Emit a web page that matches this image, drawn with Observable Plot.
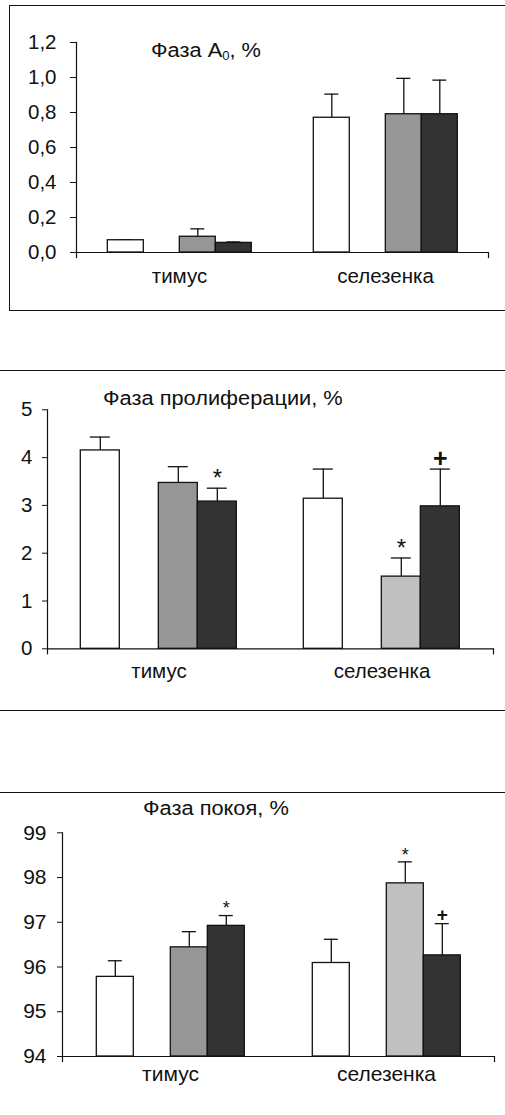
<!DOCTYPE html>
<html>
<head>
<meta charset="utf-8">
<script src="https://cdn.jsdelivr.net/npm/d3@7"></script>
<script src="https://cdn.jsdelivr.net/npm/@observablehq/plot@0.6"></script>
<style>
  html, body { margin: 0; padding: 0; background: #fff; }
  body { width: 505px; height: 1115px; position: relative; overflow: hidden;
         font-family: "Liberation Sans", Arial, Helvetica, sans-serif; color: #111; }
  .abs { position: absolute; }
  .title { position: absolute; font-size: 20px; line-height: 20px; white-space: nowrap;
           transform: scaleX(1.09); transform-origin: left center; }
  .title sub { font-size: 0.6em; vertical-align: -0.25em; line-height: 0; }
  .hline { position: absolute; left: 0; width: 505px; height: 0; border-top: 1px solid #111; }
</style>
</head>
<body>
<div class="abs" style="left:9px; top:5px; width:520px; height:304px; border:1px solid #111;"></div>
<div class="hline" style="top:370px;"></div>
<div class="hline" style="top:710px;"></div>
<div class="hline" style="top:792px;"></div>

<div id="p1" class="abs" style="left:0; top:0;"></div>
<div id="p2" class="abs" style="left:0; top:380px;"></div>
<div id="p3" class="abs" style="left:0; top:800px;"></div>

<div class="title" style="left:151px; top:40px;">Фаза A<sub>0</sub>, %</div>
<div class="title" style="left:103px; top:388px;">Фаза пролиферации, %</div>
<div class="title" style="left:143px; top:798px;">Фаза покоя, %</div>

<script>
// ---------- data ----------
const categories = ["тимус", "селезенка"];
const slots = ["s1", "s2", "s3", "s4"];           // s2 is an empty slot in every group
const barCategory = ["тимус", "тимус", "тимус", "селезенка", "селезенка", "селезенка"];
const barSeries   = ["s1", "s3", "s4", "s1", "s3", "s4"];

// Фаза A0, %
const a0Mean = [0.07, 0.09, 0.055, 0.77, 0.79, 0.79];
const a0SE   = [0.003, 0.045, 0.005, 0.135, 0.205, 0.195];
const a0Ticks = [0, 0.2, 0.4, 0.6, 0.8, 1.0, 1.2];

// Фаза пролиферации, %
const prolifMean = [4.15, 3.47, 3.08, 3.14, 1.51, 2.98];
const prolifSE   = [0.28, 0.34, 0.28, 0.62, 0.39, 0.78];
const prolifTicks = [0, 1, 2, 3, 4, 5];

// Фаза покоя, %
const restMean = [95.78, 96.44, 96.92, 96.09, 97.87, 96.26];
const restSE   = [0.36, 0.35, 0.23, 0.53, 0.48, 0.71];
const restTicks = [94, 95, 96, 97, 98, 99];

// significance marks (category, series, label)
const markCategory = ["тимус", "селезенка", "селезенка"];
const markSeries   = ["s4", "s3", "s4"];
const markLabel    = ["*", "*", "+"];

// ---------- styles ----------
const FONT = '"Liberation Sans", Arial, Helvetica, sans-serif';
const INK = "#111";
const colorWhite = "#ffffff", colorGray = "#969696", colorLight = "#c0c0c0", colorDark = "#333333";
function fillA0(cat, s) { return s === "s1" ? colorWhite : s === "s3" ? colorGray : colorDark; }
function fillOther(cat, s) {
  if (s === "s1") return colorWhite;
  if (s === "s4") return colorDark;
  return cat === "тимус" ? colorGray : colorLight;
}

function panel(opt) {
  const data = barCategory.map((c, i) => ({
    category: c, series: barSeries[i], mean: opt.mean[i], top: opt.mean[i] + opt.se[i],
    fill: opt.fill(c, barSeries[i])
  }));
  const marks = markCategory.map((c, i) => {
    const d = data.find(e => e.category === c && e.series === markSeries[i]);
    return { category: c, series: markSeries[i], label: markLabel[i], top: d.top };
  });
  const base = opt.domain[0];
  const innerH = opt.height - opt.mt - opt.mb;
  const m = [
    Plot.ruleX(data, { fx: "category", x: "series", y1: "mean", y2: "top", stroke: INK, strokeWidth: 1.3 }),
    Plot.tickY(data, { fx: "category", x: "series", y: "top", inset: opt.capInset, stroke: INK, strokeWidth: 1.3 }),
    Plot.barY(data, { fx: "category", x: "series", y1: base, y2: "mean", fill: "fill", stroke: INK, strokeWidth: 1.3 }),
    Plot.ruleY([base], { stroke: INK, strokeWidth: 1.2 }),
    Plot.frame({ anchor: "left", facetAnchor: "left", insetBottom: -5, stroke: INK, strokeWidth: 1.2 }),
    Plot.frame({ anchor: "right", facetAnchor: "right", insetTop: innerH, insetBottom: -5, stroke: INK, strokeWidth: 1.2 }),
    Plot.axisY({ ticks: opt.ticks, tickFormat: opt.format, tickSize: opt.tickSize, tickPadding: opt.tickPad,
                 fontSize: opt.fs, label: null, stroke: INK }),
    Plot.axisFx({ anchor: "bottom", tickSize: 0, tickPadding: opt.fxPad, fontSize: opt.fs, label: null })
  ];
  if (opt.withMarks) {
    m.push(Plot.text(marks.filter(d => d.label === "*"), { fx: "category", x: "series", y: "top", text: "label",
      fontSize: opt.starFs, dy: opt.starDy, fill: INK }));
    m.push(Plot.text(marks.filter(d => d.label === "+"), { fx: "category", x: "series", y: "top", text: "label",
      fontSize: opt.plusFs, dy: opt.plusDy, fill: INK, fontWeight: "bold" }));
  }
  return Plot.plot({
    width: 505, height: opt.height,
    marginTop: opt.mt, marginBottom: opt.mb, marginLeft: opt.ml, marginRight: opt.mr,
    style: { fontFamily: FONT, fontSize: opt.fs + "px", color: INK, background: "transparent", overflow: "visible" },
    fx: { domain: categories, padding: 0, label: null, axis: null },
    x: { domain: slots, paddingInner: 0, paddingOuter: 0.857, axis: null },
    y: { domain: opt.domain, axis: null },
    marks: m
  });
}

document.getElementById("p1").append(panel({
  mean: a0Mean, se: a0SE, fill: fillA0, domain: [0, 1.2], ticks: a0Ticks,
  format: d => d.toFixed(1).replace(".", ","),
  height: 300, mt: 42, mb: 48, ml: 75.7, mr: 16, fs: 20.5, tickSize: 6, tickPad: 14, fxPad: 16,
  capInset: 11, withMarks: false
}));

document.getElementById("p2").append(panel({
  mean: prolifMean, se: prolifSE, fill: fillOther, domain: [0, 5], ticks: prolifTicks,
  format: d => String(d),
  height: 310, mt: 29.3, mb: 41.7, ml: 46.7, mr: 12, fs: 20.5, tickSize: 5, tickPad: 10, fxPad: 14.5,
  capInset: 9.5, withMarks: true, starFs: 24, starDy: -10, plusFs: 25, plusDy: -10.5
}));

document.getElementById("p3").append(panel({
  mean: restMean, se: restSE, fill: fillOther, domain: [94, 99], ticks: restTicks,
  format: d => String(d),
  height: 315, mt: 32.3, mb: 59, ml: 61.7, mr: 10, fs: 21, tickSize: 5, tickPad: 11, fxPad: 10,
  capInset: 11.5, withMarks: true, starFs: 18, starDy: -7, plusFs: 19, plusDy: -9
}));
</script>
</body>
</html>
